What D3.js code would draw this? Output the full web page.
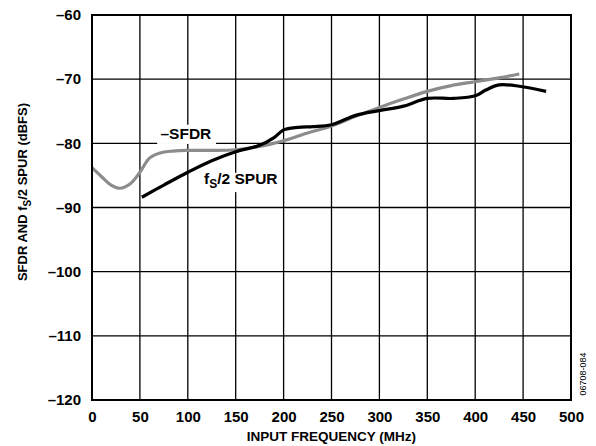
<!DOCTYPE html>
<html>
<head>
<meta charset="utf-8">
<script src="https://cdn.jsdelivr.net/npm/d3@7"></script>
<style>
  body { margin: 0; background: #fff; }
  svg text { font-family: "Liberation Sans", Arial, sans-serif; }
</style>
</head>
<body>
<div id="chart"></div>
<script>
// tick values
var xTicks = [0, 50, 100, 150, 200, 250, 300, 350, 400, 450, 500];
var yTicks = [-60, -70, -80, -90, -100, -110, -120];

// -SFDR (gray)
var sfdrFreq = [0, 10, 20, 29, 40, 50, 60, 71, 85, 100, 125, 150, 175, 200, 225, 250, 275, 300, 325, 350, 375, 400, 425, 446];
var sfdrVal = [-83.8, -85.2, -86.5, -87.0, -86.3, -84.5, -82.3, -81.5, -81.2, -81.1, -81.1, -81.0, -80.5, -79.6, -78.4, -77.3, -75.8, -74.4, -73.1, -71.9, -71.0, -70.4, -69.8, -69.2];

// fs/2 spur (black)
var spurFreq = [52, 75, 100, 125, 150, 175, 190, 200, 215, 231, 250, 276, 300, 325, 350, 377, 400, 411, 425, 446, 474];
var spurVal = [-88.4, -86.5, -84.5, -82.7, -81.3, -80.3, -79.1, -77.9, -77.5, -77.4, -77.1, -75.6, -74.9, -74.2, -73.0, -73.0, -72.6, -71.7, -70.9, -71.1, -71.9];

var margin = { top: 15, right: 25, bottom: 46, left: 92 };
var svgWidth = 596, svgHeight = 446;
var width = svgWidth - margin.left - margin.right;
var height = svgHeight - margin.top - margin.bottom;

var svg = d3.select("#chart")
    .append("svg")
    .attr("width", svgWidth)
    .attr("height", svgHeight);

var g = svg.append("g")
    .attr("transform", `translate(${margin.left},${margin.top})`);

var x = d3.scaleLinear().domain([0, 500]).range([0, width]);
var y = d3.scaleLinear().domain([-120, -60]).range([height, 0]);

// grid
g.selectAll(".vgrid")
    .data(xTicks)
    .join("line")
    .attr("x1", d => x(d)).attr("x2", d => x(d))
    .attr("y1", 0).attr("y2", height)
    .attr("stroke", "#000").attr("stroke-width", 1.3);

g.selectAll(".hgrid")
    .data(yTicks)
    .join("line")
    .attr("x1", 0).attr("x2", width)
    .attr("y1", d => y(d)).attr("y2", d => y(d))
    .attr("stroke", "#000").attr("stroke-width", 1.3);

// white boxes behind labels
g.append("rect")
    .attr("x", x(68)).attr("y", y(-77.1))
    .attr("width", x(129.5) - x(68)).attr("height", y(-80.1) - y(-77.1))
    .attr("fill", "#fff");

g.append("rect")
    .attr("x", x(113)).attr("y", y(-84.6))
    .attr("width", x(198) - x(113)).attr("height", y(-87.6) - y(-84.6))
    .attr("fill", "#fff");

var line = d3.line()
    .x(d => x(d[0]))
    .y(d => y(d[1]))
    .curve(d3.curveCatmullRom);

g.append("path")
    .datum(d3.zip(sfdrFreq, sfdrVal))
    .attr("d", line)
    .attr("fill", "none")
    .attr("stroke", "#8c8c8c")
    .attr("stroke-width", 3.2);

g.append("path")
    .datum(d3.zip(spurFreq, spurVal))
    .attr("d", line)
    .attr("fill", "none")
    .attr("stroke", "#000")
    .attr("stroke-width", 3.2);

// frame
g.append("rect")
    .attr("width", width).attr("height", height)
    .attr("fill", "none").attr("stroke", "#000").attr("stroke-width", 2);

// axes
var xAxis = g.append("g")
    .attr("transform", `translate(0,${height})`)
    .call(d3.axisBottom(x).tickValues(xTicks).tickSize(0).tickPadding(11));
var yAxis = g.append("g")
    .call(d3.axisLeft(y).tickValues(yTicks).tickSize(0).tickPadding(11)
        .tickFormat(d => "\u2013" + Math.abs(d)));

[xAxis, yAxis].forEach(function (a) {
    a.select(".domain").remove();
    a.selectAll("text")
        .attr("fill", "#000")
        .style("font-size", "15px")
        .style("font-weight", "bold")
        .style("font-family", "'Liberation Sans', Arial, sans-serif");
});

// annotations
g.append("text")
    .attr("x", x(98)).attr("y", y(-79.4))
    .attr("text-anchor", "middle")
    .style("font-size", "15.5px").style("font-weight", "bold")
    .text("\u2013SFDR");

var spurLabel = g.append("text")
    .attr("x", x(117)).attr("y", y(-86.3))
    .style("font-size", "15.5px").style("font-weight", "bold");
spurLabel.append("tspan").text("f");
spurLabel.append("tspan").attr("dy", 4).style("font-size", "12px").text("S");
spurLabel.append("tspan").attr("dy", -4).text("/2 SPUR");

// axis titles
svg.append("text")
    .attr("x", margin.left + width / 2).attr("y", 441)
    .attr("text-anchor", "middle")
    .style("font-size", "13.5px").style("font-weight", "bold")
    .text("INPUT FREQUENCY (MHz)");

var yTitle = svg.append("text")
    .attr("transform", "translate(27,192) rotate(-90)")
    .attr("text-anchor", "middle")
    .style("font-size", "13px").style("font-weight", "bold");
yTitle.append("tspan").text("SFDR AND f");
yTitle.append("tspan").attr("dy", 4).style("font-size", "10px").text("S");
yTitle.append("tspan").attr("dy", -4).text("/2 SPUR (dBFS)");

svg.append("text")
    .attr("transform", "translate(586,374) rotate(-90)")
    .attr("text-anchor", "middle")
    .style("font-size", "9px")
    .text("06708-084");
</script>
</body>
</html>
